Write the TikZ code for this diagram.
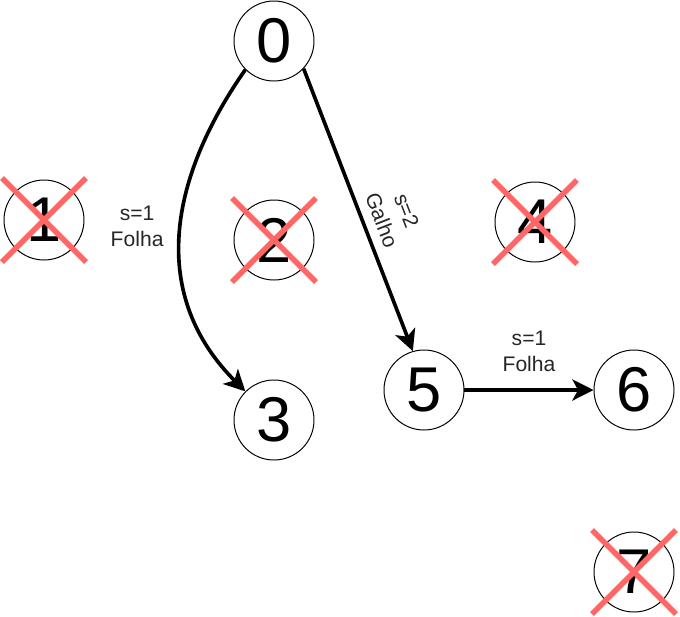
\documentclass[tikz,border=0pt]{standalone}
\usepackage{fontspec}
\setmainfont{Liberation Sans}
\usepackage{tikz}
\usetikzlibrary{arrows.meta}
\definecolor{crossred}{RGB}{255,102,102}

\begin{document}
\begin{tikzpicture}[
  vert/.style={circle,draw,line width=0.7pt,minimum size=2cm,inner sep=0pt,font=\fontsize{45}{45}\selectfont},
  edge/.style={line width=2.6pt,-{Stealth[length=15pt,width=15pt,inset=4pt]}},
  lbl/.style={align=center,inner sep=2pt,font=\fontsize{15}{19}\selectfont,text=black!85},
  cross/.style={line width=4pt,color=crossred}]
\useasboundingbox (0,0) rectangle (17,-15.4);

\node[vert] (n0) at (6.85,-1.025) {0};
\node[vert] (n1) at (1.1,-5.5) {1};
\node[vert] (n2) at (6.85,-6.0) {2};
\node[vert] (n3) at (6.85,-10.5) {3};
\node[vert] (n4) at (13.375,-5.55) {4};
\node[vert] (n5) at (10.6,-9.75) {5};
\node[vert] (n6) at (15.85,-9.75) {6};
\node[vert] (n7) at (15.85,-14.3) {7};

\draw[edge] (n0.-135) to[out=-125,in=135,looseness=1.08] node[lbl,pos=0.47,left=0.32cm] (l03) {s=1\\Folha} (n3.135);
\draw[edge] (n0.-43) -- node[lbl,pos=0.56,sloped,above=0.15cm] (l05) {s=2\\Galho} (n5.106);
\draw[edge] (n5) -- node[lbl,midway,above=0.33cm] (l56) {s=1\\Folha} (n6);

\draw[cross] ([shift={(-1.05,1.05)}]n1.center) -- ([shift={(1.05,-1.05)}]n1.center);
\draw[cross] ([shift={(-1.05,-1.05)}]n1.center) -- ([shift={(1.05,1.05)}]n1.center);
\draw[cross] ([shift={(-1.05,1.05)}]n2.center) -- ([shift={(1.05,-1.05)}]n2.center);
\draw[cross] ([shift={(-1.05,-1.05)}]n2.center) -- ([shift={(1.05,1.05)}]n2.center);
\draw[cross] ([shift={(-1.05,1.05)}]n4.center) -- ([shift={(1.05,-1.05)}]n4.center);
\draw[cross] ([shift={(-1.05,-1.05)}]n4.center) -- ([shift={(1.05,1.05)}]n4.center);
\draw[cross] ([shift={(-1.05,1.05)}]n7.center) -- ([shift={(1.05,-1.05)}]n7.center);
\draw[cross] ([shift={(-1.05,-1.05)}]n7.center) -- ([shift={(1.05,1.05)}]n7.center);

\end{tikzpicture}
\end{document}
